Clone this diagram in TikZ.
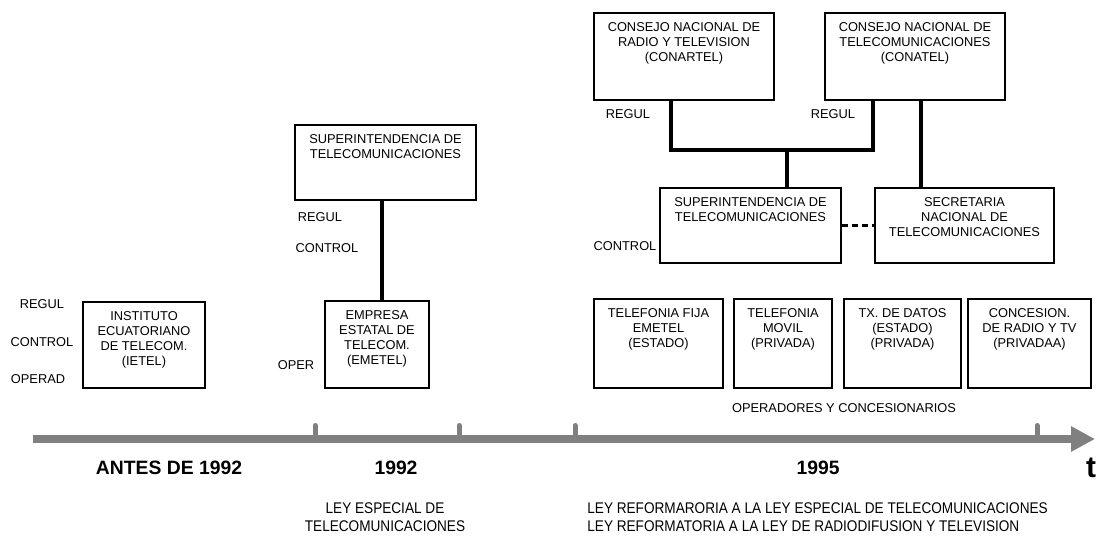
\documentclass[tikz,border=0pt]{standalone}
\usepackage{fontspec}
\setmainfont{Liberation Sans}
\newfontfamily\narrowfont[FakeStretch=0.88]{Liberation Sans}
\usetikzlibrary{arrows.meta,positioning}
\definecolor{axisgray}{RGB}{128,128,128}

\begin{document}
\begin{tikzpicture}[
    x=0.02cm, y=-0.02cm,
    font=\fontsize{7.3}{8.5}\selectfont,
    box/.style={
      draw,line width=1.1pt,inner sep=0pt
    },
    boxtext/.style={anchor=north,align=center,inner sep=0pt,yshift=-0.21cm},
    tag/.style={inner sep=0pt},
    link/.style={line width=2.1pt},
    era/.style={font=\fontsize{11}{13}\selectfont\bfseries},
    law/.style={align=center,inner sep=0pt,font=\fontsize{8.8}{10.2}\selectfont\narrowfont},
    timeline/.style={draw=axisgray,line width=0.16cm,-{Triangle[length=0.48cm,width=0.48cm]}},
    tickmark/.style={draw=axisgray,line width=0.1cm,line cap=round}
  ]
  \useasboundingbox (0,0) rectangle (1098,538);

  % antes de 1992
  \node (ietel) [box,minimum width=2.44cm,minimum height=1.72cm,
    label={[boxtext]north:{INSTITUTO\\ECUATORIANO\\DE TELECOM.\\(IETEL)}}] at (144,345) {};
  \node (regA)  [tag] at (42,304) {REGUL};
  \node (ctrlA) [tag] at (42,342) {CONTROL};
  \node (opA)   [tag] at (38,379) {OPERAD};

  % 1992
  \node (sit92) [box,minimum width=3.62cm,minimum height=1.5cm,
    label={[boxtext]north:{SUPERINTENDENCIA DE\\TELECOMUNICACIONES}}] at (385.5,162.5) {};
  \node (emetel) [box,minimum width=2.08cm,minimum height=1.74cm,
    label={[boxtext]north:{EMPRESA\\ESTATAL DE\\TELECOM.\\(EMETEL)}}] at (377,344.5) {};
  \node (regB)  [tag] at (320,217) {REGUL};
  \node (ctrlB) [tag] at (327,248) {CONTROL};
  \node (opB)   [tag] at (296,365) {OPER};

  % 1995
  \node (conartel) [box,minimum width=3.6cm,minimum height=1.74cm,
    label={[boxtext]north:{CONSEJO NACIONAL DE\\RADIO Y TELEVISION\\(CONARTEL)}}] at (684,56.5) {};
  \node (conatel) [box,minimum width=3.6cm,minimum height=1.74cm,
    label={[boxtext]north:{CONSEJO NACIONAL DE\\TELECOMUNICACIONES\\(CONATEL)}}] at (915,56.5) {};
  \node (sit95) [box,minimum width=3.62cm,minimum height=1.5cm,
    label={[boxtext]north:{SUPERINTENDENCIA DE\\TELECOMUNICACIONES}}] at (750.5,225.5) {};
  \node (senatel) [box,minimum width=3.58cm,minimum height=1.5cm,
    label={[boxtext]north:{SECRETARIA\\NACIONAL DE\\TELECOMUNICACIONES}}] at (964.5,225.5) {};
  \node (regC)  [tag] at (628,114) {REGUL};
  \node (regD)  [tag] at (833,114) {REGUL};
  \node (ctrlC) [tag] at (625,246) {CONTROL};

  \node (fija) [box,minimum width=2.58cm,minimum height=1.78cm,
    label={[boxtext]north:{TELEFONIA FIJA\\EMETEL\\(ESTADO)}}] at (658.5,343.5) {};
  \node (movil) [box,minimum width=1.96cm,minimum height=1.78cm,
    label={[boxtext]north:{TELEFONIA\\MOVIL\\(PRIVADA)}}] at (783,343.5) {};
  \node (datos) [box,minimum width=2.34cm,minimum height=1.78cm,
    label={[boxtext]north:{TX. DE DATOS\\(ESTADO)\\(PRIVADA)}}] at (902.5,343.5) {};
  \node (radio) [box,minimum width=2.46cm,minimum height=1.78cm,
    label={[boxtext]north:{CONCESION.\\DE RADIO Y TV\\(PRIVADAA)}}] at (1029.5,343.5) {};
  \node (oper) [tag] at (844,408) {OPERADORES Y CONCESIONARIOS};

  % draw links
  \draw [link] ([xshift=-0.07cm]sit92.south) -- ([xshift=-0.07cm]sit92.south |- emetel.north);
  \coordinate (join) at (787,150);
  \draw [link] ([xshift=-0.26cm]conartel.south) |- (join) -| ([xshift=-0.84cm]conatel.south);
  \draw [link] (join) -- (join |- sit95.north);
  \draw [link] ([xshift=0.12cm]conatel.south) -- ([xshift=0.12cm]conatel.south |- senatel.north);
  \draw [line width=1.5pt,dash pattern=on 0.12cm off 0.08cm] (sit95.east) -- (senatel.west);

  % time axis
  \coordinate (tstart) at (33,439);
  \coordinate (tend) at (1095,439);
  \draw [timeline] (tstart) -- (tend);
  \foreach \x in {315,459,575,1037}
    \draw [tickmark] (\x,439) -- (\x,425.5);

  \node (antes) [era] at (169,468) {ANTES DE 1992};
  \node (y92)   [era] at (396,468) {1992};
  \node (y95)   [era] at (818,468) {1995};
  \node (taxis) [font=\fontsize{17}{19}\selectfont\bfseries] at (1091,468) {t};

  \node (ley92) [law] at (385,517) {LEY ESPECIAL DE\\TELECOMUNICACIONES};
  \node (ley95) [law,align=left,anchor=west] at (587,517)
    {LEY REFORMARORIA A LA LEY ESPECIAL DE TELECOMUNICACIONES\\LEY REFORMATORIA A LA LEY DE RADIODIFUSION Y TELEVISION};
\end{tikzpicture}
\end{document}
